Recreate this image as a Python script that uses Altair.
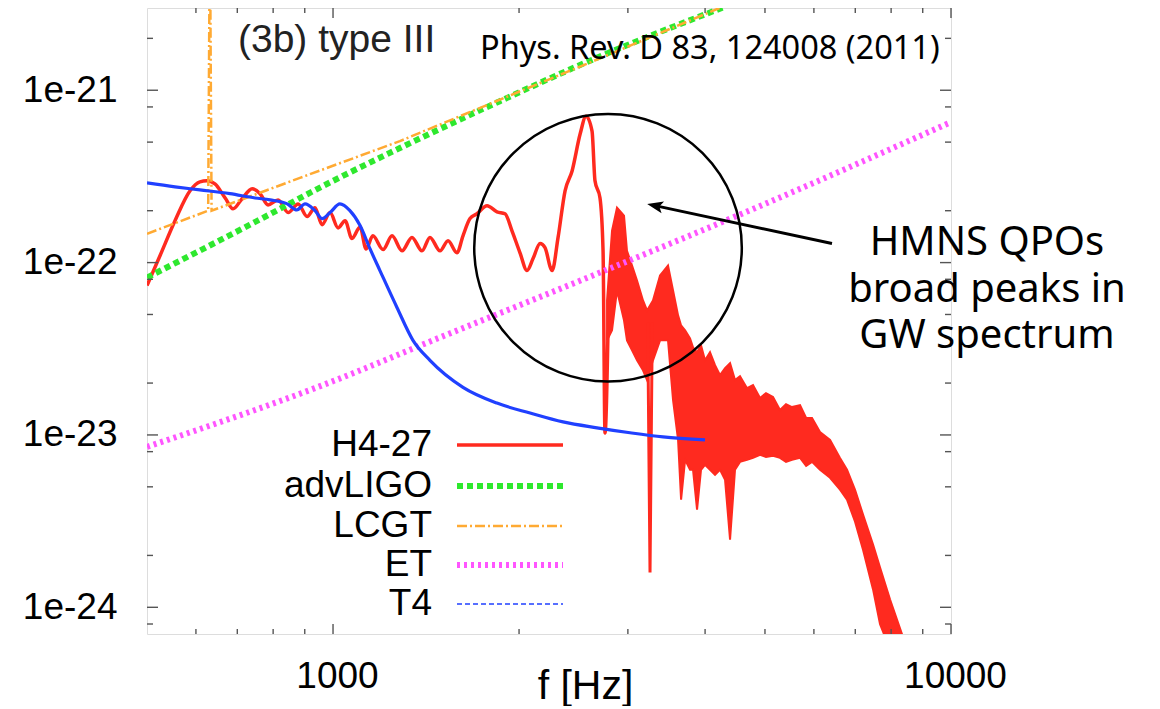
import altair as alt
import pandas as pd

# ---------------- data (h in units of 1e-22) ----------------
E22 = 1e-22

h427_f = [500, 525, 555, 587, 609, 625, 644, 669, 689, 712, 740, 762, 785, 815, 846,
          878, 908, 935, 960, 989, 1019, 1046, 1073, 1106, 1131, 1160, 1205, 1246, 1293, 1342,
          1393, 1435, 1490, 1535, 1587, 1623, 1666, 1710, 1775, 1842, 1898, 1948, 2007, 2060, 2107,
          2163, 2203, 2262, 2313, 2374, 2437, 2511, 2567, 2625, 2654, 2704, 2735, 2755, 2786]
h427_h = [0.736, 1.10, 1.75, 2.61, 2.94, 2.98, 2.86, 2.37, 2.05, 2.34, 2.68, 2.51, 2.16, 2.31, 1.95,
          2.19, 1.85, 2.08, 1.66, 1.95, 1.59, 1.75, 1.38, 1.61, 1.20, 1.43, 1.19, 1.43, 1.17, 1.40,
          1.17, 1.40, 1.17, 1.34, 1.14, 1.43, 1.80, 1.92, 2.14, 1.97, 1.92, 1.53, 1.14, 0.899, 1.055,
          1.29, 1.22, 0.899, 1.40, 2.61, 3.40, 5.57, 7.07, 5.79, 2.98, 2.37, 1.17, 0.1027, 0.405]

# noisy high-frequency part of H4-27 (upper / lower envelope)
band_f = [2776, 2828, 2881, 2957, 2990, 3047, 3104, 3174, 3222, 3294,
          3382, 3484, 3550, 3617, 3658, 3713, 3782, 3824, 3882, 3940,
          3999, 4074, 4151, 4229, 4309, 4390, 4472, 4556, 4677, 4782,
          4909, 5019, 5152, 5288, 5408, 5530, 5698, 5829, 5958, 6138,
          6372, 6613, 6788, 6994, 7205, 7479, 7677, 7969, 8333, 8586]
band_hi = [0.603, 1.53, 2.08, 1.87, 1.17, 0.961, 0.787, 0.603, 0.528, 0.603,
           0.841, 0.961, 0.689, 0.494, 0.432, 0.405, 0.3636, 0.3226, 0.3018, 0.331,
           0.271, 0.3018, 0.2539, 0.2222, 0.244, 0.2607, 0.208, 0.2193, 0.1869, 0.1945,
           0.1637, 0.1749, 0.166, 0.1395, 0.151, 0.1452, 0.149, 0.1254, 0.1254, 0.1040,
           0.0936, 0.0736, 0.0628, 0.0481, 0.0345, 0.0231, 0.0170, 0.0111, 0.00698, 0.0050]
band_lo = [0.354, 0.405, 0.689, 0.462, 0.354, 0.310, 0.271, 0.237, 0.208, 0.271,
           0.354, 0.354, 0.159, 0.0936, 0.0421, 0.0717, 0.0628, 0.0628, 0.0369, 0.0628,
           0.0671, 0.0628, 0.0587, 0.0628, 0.0549, 0.0247, 0.0628, 0.0698, 0.0717, 0.0736,
           0.0766, 0.0746, 0.0756, 0.0736, 0.0698, 0.0717, 0.0736, 0.0662, 0.0698, 0.0628,
           0.0564, 0.0481, 0.0421, 0.0314, 0.0216, 0.0127, 0.00797, 0.00571, 0.00438, 0.00336]

notch_f = [3230, 3258, 3286]
notch_h = [0.45, 0.0159, 0.45]

adv_f = [500, 734, 1000, 1283, 1862, 2703, 4276]
adv_h = [0.819, 1.66, 2.98, 4.62, 8.64, 15.7, 30.2]

lcgt_f = [500, 628, 632, 636, 884, 1283, 1986, 2703, 4276]
lcgt_h = [1.47, 2.0, 100.0, 2.0, 3.10, 5.07, 9.7, 15.3, 30.6]

et_f = [500, 989, 1490, 2703, 4910, 10000]
et_h = [0.0853, 0.202, 0.368, 0.875, 2.13, 6.53]

t4_f = [500, 555, 609, 681, 748, 791, 843, 874, 901, 935, 960, 989, 1026, 1065, 1106,
        1148, 1191, 1269, 1347, 1435, 1623, 1842, 2084, 2356, 2674, 3024, 3420, 3999]
t4_h = [2.90, 2.75, 2.64, 2.51, 2.37, 2.31, 2.19, 2.02, 2.19, 2.00, 1.80, 1.95, 2.19, 2.00, 1.64,
        1.20, 0.899, 0.549, 0.354, 0.271, 0.189, 0.153, 0.134, 0.119, 0.110, 0.103, 0.0974, 0.0936]

x_major = [1000, 10000]
x_minor = [600, 700, 800, 900, 2000, 3000, 4000, 5000, 6000, 7000, 8000, 9000]
y_major = [1e-21, 1e-22, 1e-23, 1e-24]
y_minor = [2e-21, 8e-22, 5e-22, 2e-22, 8e-23, 5e-23, 2e-23, 8e-24, 5e-24, 2e-24, 8e-25]

legend_names = ["H4-27", "advLIGO", "LCGT", "ET", "T4"]
note_lines = ["HMNS QPOs", "broad peaks in", "GW spectrum"]

# annotation anchors (data coordinates)
circle_f, circle_h = [2786], [1.22]
arrow_f, arrow_h = [6418, 3319], [1.29, 2.14]

# ---------------- styling ----------------
W, H = 804, 626
RED = "#ff2a1f"
GREEN = "#2ee82e"
ORANGE = "#ffaa33"
MAGENTA = "#ff55ff"
BLUE = "#2040ff"
FRAME = "#555555"
FONT = "Liberation Sans"
FS = 37

xs = alt.Scale(type="log", domain=[500, 10000], nice=False)
ys = alt.Scale(type="log", domain=[7e-25, 3e-21], nice=False)

x_axis = alt.Axis(values=x_major, format="d", title="f [Hz]", grid=False, domain=False,
                  ticks=False, tickSize=0, labelFont=FONT, labelFontSize=FS, labelColor="black",
                  labelPadding=24, labelOffset=4, labelFlush=False, titleFont=FONT, titleFontSize=41,
                  titleFontWeight="normal", titleColor="black", titleX=438, titleY=64,
                  titleBaseline="alphabetic", titleAlign="center", titleAnchor="start")
y_axis = alt.Axis(values=y_major, format=".0e", title=None, grid=False, domain=False,
                  ticks=False, tickSize=0, labelFont=FONT, labelFontSize=FS, labelColor="black",
                  labelPadding=30, labelFlush=False)


def X(field="f"):
    return alt.X(f"{field}:Q", scale=xs, axis=x_axis)


def Y(field="h"):
    return alt.Y(f"{field}:Q", scale=ys, axis=y_axis)


def df_fh(f, h):
    return pd.DataFrame({"f": f, "h": [v * E22 for v in h]})


band = alt.Chart(pd.DataFrame({"f": band_f, "lo": [v * E22 for v in band_lo],
                               "hi": [v * E22 for v in band_hi]})).mark_area(
    color=RED, stroke=RED, strokeWidth=2, clip=True, opacity=1).encode(
    x=X(), y=Y("lo"), y2="hi:Q")

red_line = alt.Chart(df_fh(h427_f, h427_h)).mark_line(
    color=RED, strokeWidth=3.5, clip=True, interpolate="monotone").encode(x=X(), y=Y())
red_notch = alt.Chart(df_fh(notch_f, notch_h)).mark_line(
    color=RED, strokeWidth=3, clip=True).encode(x=X(), y=Y())

adv = alt.Chart(df_fh(adv_f, adv_h)).mark_line(
    color=GREEN, strokeWidth=6, strokeDash=[6, 4], interpolate="monotone", clip=True).encode(x=X(), y=Y())
lcgt = alt.Chart(df_fh(lcgt_f, lcgt_h)).mark_line(
    color=ORANGE, strokeWidth=2.5, strokeDash=[10, 3, 2, 3], clip=True).encode(x=X(), y=Y())
et = alt.Chart(df_fh(et_f, et_h)).mark_line(
    color=MAGENTA, strokeWidth=6, strokeDash=[3, 4], interpolate="monotone", clip=True).encode(x=X(), y=Y())
t4 = alt.Chart(df_fh(t4_f, t4_h)).mark_line(
    color=BLUE, strokeWidth=3.2, clip=True, interpolate="monotone").encode(x=X(), y=Y())


def xticks(vals, length, top):
    enc = dict(x=X())
    if top:
        enc.update(y=alt.value(0), y2=alt.value(length))
    else:
        enc.update(y=alt.value(H), y2=alt.value(H - length))
    return alt.Chart(pd.DataFrame({"f": vals})).mark_rule(color=FRAME, strokeWidth=1.4).encode(**enc)


def yticks(vals, length, right):
    enc = dict(y=Y())
    if right:
        enc.update(x=alt.value(W), x2=alt.value(W - length))
    else:
        enc.update(x=alt.value(0), x2=alt.value(length))
    return alt.Chart(pd.DataFrame({"h": vals})).mark_rule(color=FRAME, strokeWidth=1.4).encode(**enc)


ticks = [xticks(x_major, 10, False), xticks(x_minor, 5, False),
         xticks(x_major, 10, True), xticks(x_minor, 5, True),
         yticks(y_major, 11, False), yticks(y_minor, 6, False),
         yticks(y_major, 11, True), yticks(y_minor, 6, True)]

one = pd.DataFrame({"k": [0]})
label3b = alt.Chart(one).mark_text(font=FONT, fontSize=39, color="#222222", align="left",
                                   baseline="alphabetic").encode(
    x=alt.value(91), y=alt.value(44), text=alt.value("(3b) type III"))
ref = alt.Chart(one).mark_text(font="Noto Sans", fontSize=32.5, color="black", align="left",
                               baseline="alphabetic").encode(
    x=alt.value(333), y=alt.value(51), text=alt.value("Phys. Rev. D 83, 124008 (2011)"))
notes = [alt.Chart(one).mark_text(font="Noto Sans", fontSize=40, color="black", align="center",
                                  baseline="alphabetic").encode(
    x=alt.value(840), y=alt.value(247 + 46.5 * i), text=alt.value(t)) for i, t in enumerate(note_lines)]

circle = alt.Chart(df_fh(circle_f, circle_h)).mark_point(
    shape="circle", filled=False, size=71600, stroke="black", strokeWidth=2.5, opacity=1).encode(
    x=X(), y=Y())
arrow_df = pd.DataFrame({"f": [arrow_f[0]], "f2": [arrow_f[1]],
                         "h": [arrow_h[0] * E22], "h2": [arrow_h[1] * E22]})
arrow = alt.Chart(arrow_df).mark_rule(color="black", strokeWidth=3).encode(
    x=X(), x2="f2:Q", y=Y(), y2="h2:Q")
head = alt.Chart(df_fh(arrow_f[1:], arrow_h[1:])).mark_point(
    shape="M-1,0L1,-0.75L0.55,0L1,0.75Z", filled=True, size=256, color="black",
    angle=12, opacity=1).encode(x=X(), y=Y())

# legend
leg_y = [437, 478, 518, 557, 596]
leg_styles = [
    dict(color=RED, strokeWidth=3.5),
    dict(color=GREEN, strokeWidth=6, strokeDash=[6, 4]),
    dict(color=ORANGE, strokeWidth=2.5, strokeDash=[10, 3, 2, 3]),
    dict(color=MAGENTA, strokeWidth=6, strokeDash=[3, 4]),
    dict(color=BLUE, strokeWidth=1.6, strokeDash=[5, 3]),
]
legend = []
for name, yy, st in zip(legend_names, leg_y, leg_styles):
    legend.append(alt.Chart(one).mark_text(font=FONT, fontSize=FS, color="black", align="right",
                                           baseline="middle").encode(
        x=alt.value(285), y=alt.value(yy), text=alt.value(name)))
    legend.append(alt.Chart(one).mark_rule(**st).encode(
        x=alt.value(310), x2=alt.value(416), y=alt.value(yy)))

chart = alt.layer(
    band, red_line, red_notch, adv, lcgt, et, t4, *ticks,
    label3b, ref, *notes, circle, arrow, head, *legend
).properties(
    width=W, height=H,
    autosize=alt.AutoSizeParams(type="none"),
    padding={"left": 139, "top": 0, "right": 195, "bottom": 72},
).configure_view(stroke=FRAME, strokeWidth=1.5).configure(background="white")

chart.save("out.html", embed_options={"renderer": "svg", "actions": False})
